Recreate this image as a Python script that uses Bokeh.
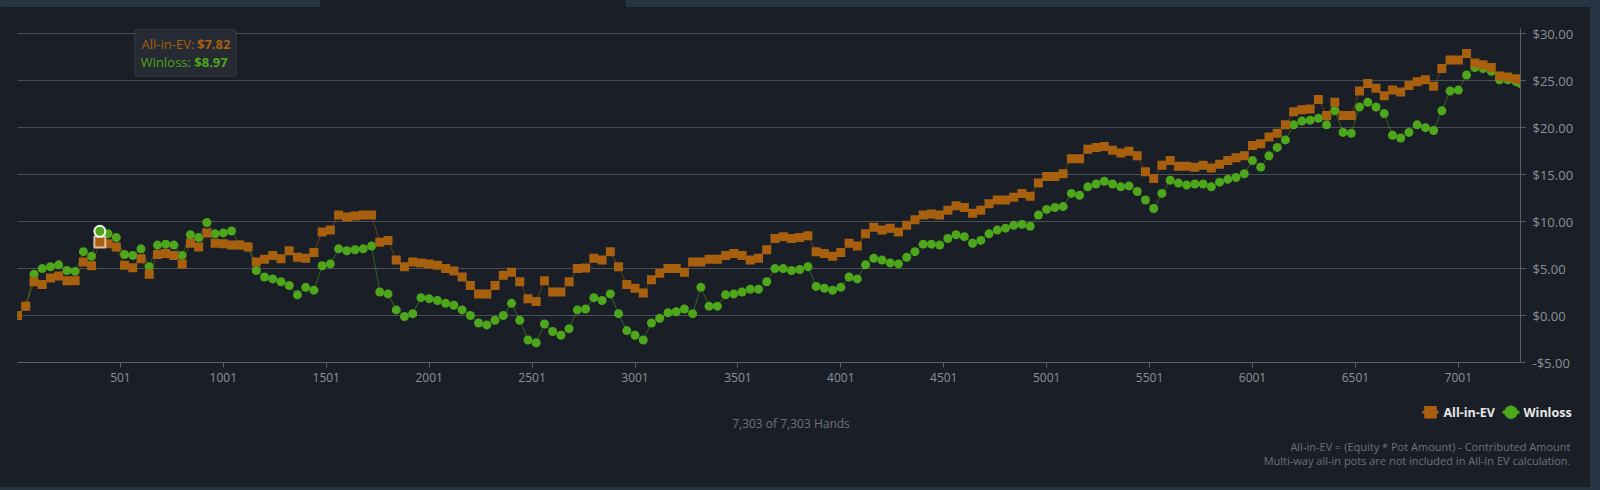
from bokeh.plotting import figure
from bokeh.models import Range1d, FixedTicker, Label, BoxAnnotation, Spacer
from bokeh.layouts import column, row
from bokeh.embed import file_html
from bokeh.resources import INLINE

# ---------------- data ----------------
TOTAL_HANDS = 7303
HANDS = list(range(1, 7302, 40)) + [TOTAL_HANDS]

ALL_IN_EV = [
    0.0, 1.0, 3.6, 3.3, 4.0, 4.2, 3.7, 3.7, 5.7, 5.3, 7.82, 7.65, 7.3, 5.35, 5.1, 6.05, 4.4, 6.5, 6.6, 6.4, 5.5, 7.7, 7.3,
    8.8, 7.7, 7.65, 7.5, 7.5, 7.3, 5.7, 6.0, 6.4, 6.05, 6.9, 6.2, 6.1, 6.7, 8.9, 9.1, 10.7, 10.5, 10.6, 10.7, 10.7, 7.8, 8.0,
    5.9, 5.2, 5.7, 5.6, 5.5, 5.35, 5.0, 4.75, 4.1, 3.2, 2.3, 2.3, 3.2, 4.3, 4.6, 3.6, 1.8, 1.5, 3.7, 2.5, 2.5, 3.6, 5.0,
    5.05, 6.1, 5.9, 6.8, 5.2, 3.3, 2.9, 2.4, 3.8, 4.5, 5.0, 5.0, 4.6, 5.7, 5.7, 6.0, 6.0, 6.4, 6.6, 6.4, 5.9, 6.1, 7.0,
    8.2, 8.4, 8.2, 8.3, 8.5, 6.8, 6.6, 6.3, 6.7, 7.7, 7.4, 8.7, 9.4, 9.1, 9.3, 8.9, 9.6, 10.2, 10.7, 10.8, 10.7, 11.2,
    11.7, 11.5, 10.9, 11.2, 11.9, 12.3, 12.3, 12.6,
    13.0, 12.7, 14.1, 14.8, 14.8, 15.1, 16.7, 16.7, 17.7, 17.9, 18.0, 17.6, 17.3, 17.5, 17.0, 15.3, 14.6, 16.0, 16.5,
    15.9, 15.9, 15.8, 16.0, 15.7, 16.1, 16.5, 16.8, 17.0, 18.1, 18.3, 19.0,
    19.4, 20.3, 21.7, 21.9, 22.0, 23.0, 21.3, 22.7, 21.3, 21.3, 23.9, 24.7, 24.2, 23.4, 24.0, 23.8, 24.5, 24.9, 25.1,
    24.4, 26.3, 27.2, 27.2, 27.9, 26.9, 26.7, 26.4, 25.5, 25.4, 25.2, 25.1,
]

WINLOSS = [
    0.0, 1.0, 4.4, 5.0, 5.2, 5.4, 4.8, 4.7, 6.8, 6.3, 8.97, 8.7, 8.3, 6.5, 6.4, 7.1, 5.2, 7.5, 7.6, 7.5, 6.4, 8.6, 8.3,
    9.9, 8.7, 8.8, 9.0, 7.5, 7.3, 4.8, 4.1, 3.9, 3.6, 3.2, 2.2, 3.0, 2.7, 5.3, 5.5, 7.1, 6.9, 7.0, 7.1, 7.4, 2.5, 2.3,
    0.6, -0.1, 0.2, 1.9, 1.8, 1.6, 1.3, 1.1, 0.6, 0.0, -0.8, -1.0, -0.5, 0.0, 1.3, -0.5, -2.6, -2.9, -0.9, -1.7, -2.1, -1.4, 0.6,
    0.7, 1.9, 1.6, 2.3, 0.2, -1.6, -2.1, -2.6, -0.8, -0.3, 0.3, 0.4, 0.7, 0.2, 3.0, 1.0, 1.0, 2.2, 2.3, 2.5, 2.8, 2.8, 3.6,
    5.0, 5.0, 4.8, 4.9, 5.2, 3.1, 2.9, 2.7, 3.0, 4.1, 3.9, 5.4, 6.1, 5.9, 5.6, 5.5, 6.2, 6.8, 7.6, 7.6, 7.5, 8.2,
    8.6, 8.4, 7.7, 8.0, 8.7, 9.1, 9.3, 9.6,
    9.7, 9.5, 10.7, 11.3, 11.5, 11.6, 13.0, 12.8, 13.7, 14.0, 14.3, 14.0, 13.7, 13.8, 13.2, 12.3, 11.4, 13.0, 14.4,
    14.1, 13.9, 14.0, 14.0, 13.7, 14.2, 14.5, 14.7, 15.1, 16.5, 15.8, 17.0,
    17.9, 18.7, 20.3, 20.7, 20.8, 21.0, 20.3, 21.8, 19.5, 19.4, 22.2, 22.7, 22.2, 21.5, 19.2, 18.9, 19.5, 20.3, 20.0,
    19.7, 21.8, 23.9, 24.0, 25.6, 26.4, 26.3, 26.0, 25.1, 25.1, 24.9, 24.7,
]

SERIES = ["All-in-EV", "Winloss"]
X_TICKS = [501, 1001, 1501, 2001, 2501, 3001, 3501, 4001, 4501, 5001, 5501, 6001, 6501, 7001]
X_TICK_LABELS = ["501", "1001", "1501", "2001", "2501", "3001", "3501", "4001", "4501", "5001",
                 "5501", "6001", "6501", "7001"]
Y_TICKS = [-5, 0, 5, 10, 15, 20, 25, 30]
Y_TICK_LABELS = ["-$5.00", "$0.00", "$5.00", "$10.00", "$15.00", "$20.00", "$25.00", "$30.00"]

HOVER_HAND = 401
HOVER_EV = 7.82
HOVER_WL = 8.97
HANDS_TEXT = "7,303 of 7,303 Hands"
NOTE_1 = "All-in-EV = (Equity * Pot Amount) - Contributed Amount"
NOTE_2 = "Multi-way all-in pots are not included in All-In EV calculation."

assert len(HANDS) == len(ALL_IN_EV) == len(WINLOSS)

# ---------------- style / layout ----------------
BG = "#1a1f27"
PAGE_BG = "#263443"
TOOLTIP_BG = "#272a33"
ORANGE = "#a8600e"
GREEN = "#4ea61a"
AXIS_C = "#5c6169"
GRID_C = "#4a4f57"
LABEL_C = "#8c9197"
NOTE_C = "#6d727a"
LEGEND_C = "#e8e8e8"
FONT = "Open Sans"

PAGE_W = 1600
PANEL_W = 1590
STRIP_H = 7
MAIN_H = 383
FOOT_H = 97
ML, MR, MT, MB = 17, 70, 21, 28
FRAME_W = PANEL_W - ML - MR
FRAME_H = MAIN_H - MT - MB
FRAME_LEFT = ML
FRAME_TOP = STRIP_H + MT
X0, X1 = 1, TOTAL_HANDS
Y0, Y1 = -5, 30.56
FOOT_TOP = STRIP_H + MAIN_H


def dx(px):
    """page pixel x -> main-plot data x"""
    return X0 + (px - FRAME_LEFT) * (X1 - X0) / FRAME_W


def dy(py):
    """page pixel y -> main-plot data y"""
    return Y1 - (py - FRAME_TOP) * (Y1 - Y0) / FRAME_H


p = figure(width=PANEL_W, height=MAIN_H, output_backend="svg", toolbar_location=None,
           x_range=Range1d(X0, X1), y_range=Range1d(Y0, Y1),
           y_axis_location="right",
           min_border_left=ML, min_border_right=MR, min_border_top=MT, min_border_bottom=MB)
p.background_fill_color = BG
p.border_fill_color = BG
p.outline_line_color = None

# x axis
xa = p.xaxis[0]
xa.ticker = FixedTicker(ticks=X_TICKS)
xa.major_label_overrides = dict(zip(X_TICKS, X_TICK_LABELS))
xa.axis_line_color = AXIS_C
xa.major_tick_line_color = AXIS_C
xa.major_tick_out = 5
xa.major_tick_in = 0
xa.minor_tick_line_color = None
xa.major_label_text_color = LABEL_C
xa.major_label_text_font = FONT
xa.major_label_text_font_size = "12px"
xa.major_label_standoff = 5

# y axis (right)
ya = p.yaxis[0]
ya.ticker = FixedTicker(ticks=Y_TICKS)
ya.major_label_overrides = dict(zip(Y_TICKS, Y_TICK_LABELS))
ya.axis_line_color = AXIS_C
ya.major_tick_line_color = AXIS_C
ya.major_tick_out = 5
ya.major_tick_in = 0
ya.minor_tick_line_color = None
ya.major_label_text_color = LABEL_C
ya.major_label_text_font = FONT
ya.major_label_text_font_size = "13px"
ya.major_label_standoff = 7

p.xgrid.visible = False
p.ygrid.ticker = FixedTicker(ticks=Y_TICKS)
p.ygrid.grid_line_color = GRID_C

# series: winloss first, all-in-ev on top
p.line(HANDS, WINLOSS, line_color=GREEN, line_width=1, line_alpha=0.5)
p.scatter(HANDS, WINLOSS, marker="circle", size=9, fill_color=GREEN, line_color=None)
p.line(HANDS, ALL_IN_EV, line_color=ORANGE, line_width=1, line_alpha=0.5)
p.scatter(HANDS, ALL_IN_EV, marker="square", size=9, fill_color=ORANGE, line_color=None)

# hovered point
p.scatter([HOVER_HAND], [HOVER_EV], marker="square", size=11, fill_color=ORANGE,
          line_color="#f0dcc8", line_width=2, line_alpha=0.8)
p.scatter([HOVER_HAND], [HOVER_WL], marker="circle", size=11, fill_color=GREEN,
          line_color="#ffffff", line_width=2, line_alpha=0.9)

# tooltip
p.add_layout(BoxAnnotation(left=dx(134.3), right=dx(235.7), top=dy(28.5), bottom=dy(75.7),
                           fill_color=TOOLTIP_BG, fill_alpha=0.97, line_color="#6e727b",
                           line_width=1, border_radius=3, level="overlay"))
p.add_layout(Label(x=dx(141), y=dy(43.3), text=SERIES[0] + ": ", text_color=ORANGE,
                   text_font=FONT, text_font_size="13px", text_baseline="middle", level="overlay"))
p.add_layout(Label(x=dx(196.5), y=dy(43.3), text="$%.2f" % HOVER_EV, text_color=ORANGE,
                   text_font=FONT, text_font_size="13px", text_font_style="bold",
                   text_baseline="middle", level="overlay"))
p.add_layout(Label(x=dx(140.3), y=dy(61.7), text=SERIES[1] + ": ", text_color=GREEN,
                   text_font=FONT, text_font_size="13px", text_baseline="middle", level="overlay"))
p.add_layout(Label(x=dx(193.8), y=dy(61.7), text="$%.2f" % HOVER_WL, text_color=GREEN,
                   text_font=FONT, text_font_size="13px", text_font_style="bold",
                   text_baseline="middle", level="overlay"))

# ---------------- footer (legend + notes), drawn in page-pixel coordinates ----------------
f = figure(width=PANEL_W, height=FOOT_H, output_backend="svg", toolbar_location=None,
           x_range=Range1d(0, PANEL_W), y_range=Range1d(FOOT_TOP + FOOT_H, FOOT_TOP),
           x_axis_type=None, y_axis_type=None,
           min_border_left=0, min_border_right=0, min_border_top=0, min_border_bottom=0)
f.background_fill_color = BG
f.border_fill_color = BG
f.outline_line_color = None
f.grid.visible = False

LEG_Y = 411.7
# legend key: All-in-EV
f.segment(x0=[1422], y0=[LEG_Y], x1=[1438], y1=[LEG_Y], line_color=ORANGE, line_width=3)
f.scatter([1430], [LEG_Y], marker="square", size=12.5, fill_color=ORANGE, line_color=None)
f.add_layout(Label(x=1443, y=LEG_Y, text=SERIES[0], text_color=LEGEND_C, text_font=FONT,
                   text_font_size="12.5px", text_font_style="bold", text_baseline="middle"))
# legend key: Winloss
f.segment(x0=[1502], y0=[LEG_Y], x1=[1519], y1=[LEG_Y], line_color=GREEN, line_width=3)
f.scatter([1510.5], [LEG_Y], marker="circle", size=13.5, fill_color=GREEN, line_color=None)
f.add_layout(Label(x=1523, y=LEG_Y, text=SERIES[1], text_color=LEGEND_C, text_font=FONT,
                   text_font_size="12.5px", text_font_style="bold", text_baseline="middle"))

f.add_layout(Label(x=790.5, y=422.7, text=HANDS_TEXT, text_color=NOTE_C, text_font=FONT,
                   text_font_size="12px", text_align="center", text_baseline="middle"))
f.add_layout(Label(x=1570, y=445.7, text=NOTE_1, text_color=NOTE_C, text_font=FONT,
                   text_font_size="11px", text_align="right", text_baseline="middle"))
f.add_layout(Label(x=1570, y=460.3, text=NOTE_2, text_color=NOTE_C, text_font=FONT,
                   text_font_size="11px", text_align="right", text_baseline="middle"))

# page chrome: lighter page edges around the dark panel, with a dark tab at the top
LIGHT = {"background-color": PAGE_BG}
strip = row(Spacer(width=320, height=STRIP_H, styles=LIGHT),
            Spacer(width=306, height=STRIP_H),
            Spacer(width=PANEL_W - 626, height=STRIP_H, styles=LIGHT))
top_root = row(column(strip, p), Spacer(width=PAGE_W - PANEL_W, height=STRIP_H + MAIN_H, styles=LIGHT))
foot_root = column(row(f, Spacer(width=PAGE_W - PANEL_W, height=FOOT_H, styles=LIGHT)),
                   Spacer(width=PAGE_W, height=3, styles=LIGHT))

html = file_html([top_root, foot_root], INLINE)
html = html.replace("<head>", "<head><style>html,body{background:%s;}</style>" % BG, 1)
open("out.html", "w").write(html)
